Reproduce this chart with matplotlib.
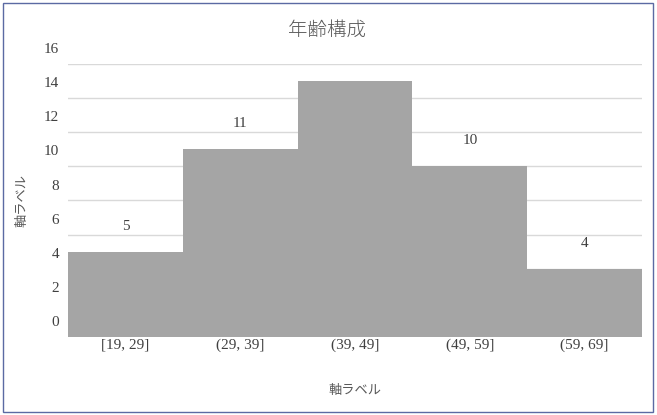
import matplotlib.pyplot as plt
import matplotlib.transforms as mtransforms
from matplotlib.patches import Rectangle
import numpy as np

# data
categories = ["[19, 29]", "(29, 39]", "(39, 49]", "(49, 59]", "(59, 69]"]
counts = [5, 11, 15, 10, 4]
value_labels = ["5", "11", "", "10", "4"]   # the tallest bar has no label
y_ticks = list(range(0, 17, 2))

title = "年齢構成"
x_label = "軸ラベル"
y_label = "軸ラベル"

JP = ["Noto Sans CJK JP", "DejaVu Sans"]
NUM = ["Liberation Serif", "DejaVu Serif"]

W, H = 657, 415
fig = plt.figure(figsize=(W / 100, H / 100), dpi=100)
ax = fig.add_axes([68 / W, (H - 337) / H, (642 - 68) / W, (337 - 64) / H])

x = np.arange(len(counts))
ax.bar(x + 0.5, counts, width=1.0, color="#a5a5a5", edgecolor="none", zorder=2)
ax.set_xlim(0, len(counts))
ax.set_ylim(0, 16)

# grid only, no spines or ticks
for s in ax.spines.values():
    s.set_visible(False)
ax.set_yticks(y_ticks)
ax.yaxis.grid(True, color="#d9d9d9", linewidth=1.0, zorder=0)
ax.set_axisbelow(True)
ax.tick_params(axis="y", length=0, labelleft=False)
ax.set_xticks(x + 0.5)
ax.set_xticklabels(categories, family=NUM, fontsize=11, color="#404040")
ax.tick_params(axis="x", length=0, pad=1)

# y tick labels sit half a step above their gridlines, as in the reference
shift = mtransforms.ScaledTranslation(-9 / 100, 14.5 / 100, fig.dpi_scale_trans)
ytrans = mtransforms.blended_transform_factory(ax.transAxes, ax.transData) + shift
for t in y_ticks:
    ax.text(0, t, str(t), transform=ytrans, ha="right", va="center",
            family=NUM, fontsize=11, color="#404040", clip_on=False)

# value labels above bars
for xi, v, lab in zip(x, counts, value_labels):
    if lab:
        ax.annotate(lab, (xi + 0.5, v), xytext=(0, 25.5), textcoords="offset pixels",
                    ha="center", va="center", family=NUM, fontsize=11,
                    color="#404040")

fig.text(327 / W, 1 - 30 / H, title, ha="center", va="center",
         family=JP, fontsize=14, fontweight="light", color="#595959")
fig.text(355 / W, 1 - 390 / H, x_label, ha="center", va="center",
         family=JP, fontsize=9.5, color="#595959")
fig.text(22 / W, 1 - 200 / H, y_label, ha="center", va="center", rotation=90,
         family=JP, fontsize=9.5, color="#595959")

# chart border
fig.patches.append(Rectangle((2.5 / W, (H - 411.5) / H), 650 / W, 408.5 / H,
                             transform=fig.transFigure, fill=False,
                             edgecolor="#5b6aa3", linewidth=1.0))

fig.savefig("out.png", dpi=100)
